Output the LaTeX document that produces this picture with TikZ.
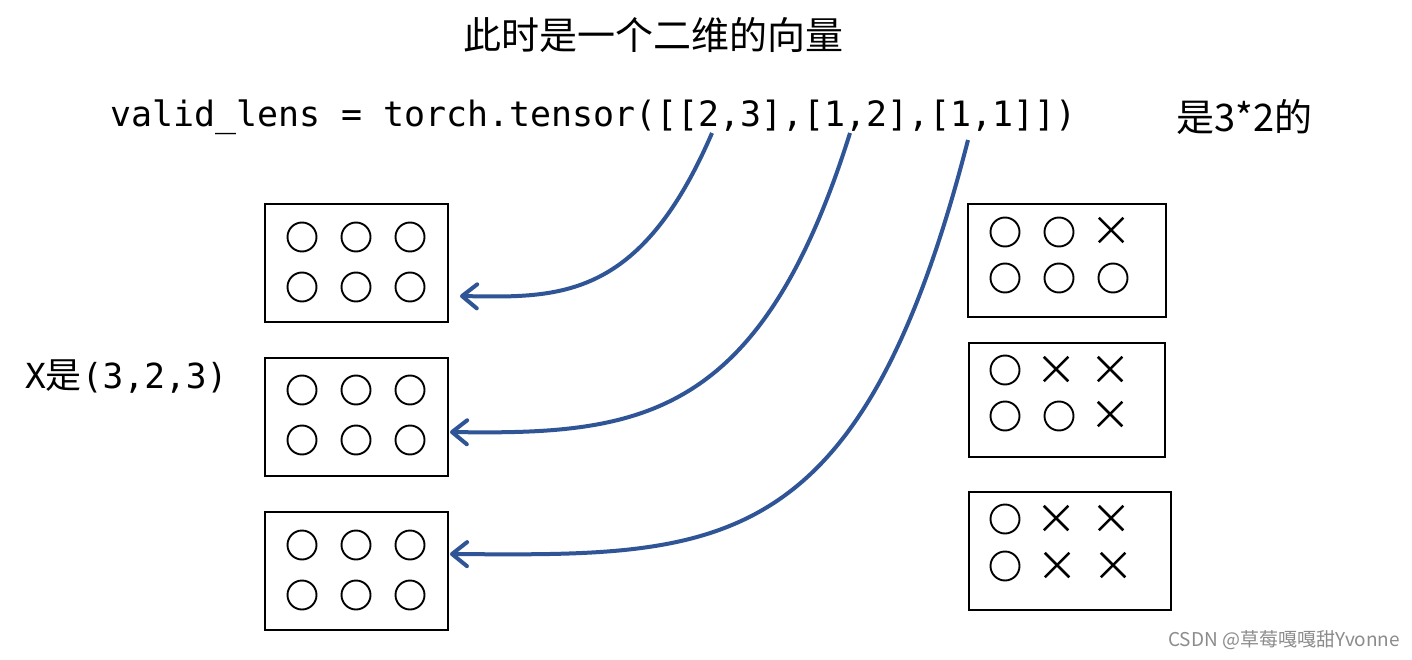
\documentclass[tikz,border=0pt]{standalone}
\usepackage{fontspec}
\setmonofont{DejaVu Sans Mono}
\newfontfamily\cjk{Noto Sans CJK SC}
\usetikzlibrary{arrows.meta,shapes.misc}
\definecolor{arrblue}{RGB}{47,85,151}
\begin{document}
\begin{tikzpicture}[x=1pt,y=-1pt,
  box/.style={draw,line width=2pt,inner sep=0pt},
  dot/.style={draw,line width=1.9pt,circle,minimum size=29pt,inner sep=0pt},
  crs/.style={draw,line width=2.5pt,cross out,minimum size=22pt,inner sep=0pt},
  conn/.style={draw=arrblue,line width=4pt,-{Straight Barb[length=15pt,width=24pt,round]}},
  lbl/.style={inner sep=0pt,anchor=west}
]
\useasboundingbox (0,0) rectangle (1412,660);
\fill[white] (0,0) rectangle (1412,660);

% texts
\node[inner sep=0pt] (title) at (653,35) {\cjk\fontsize{38}{44}\selectfont 此时是一个二维的向量};
\node[lbl] (code) at (110,117) {\ttfamily\fontsize{34.9}{40}\selectfont valid\_lens = torch.tensor([[2,3],[1,2],[1,1]])};
\node[lbl] (shape) at (1176,117) {\cjk\fontsize{38}{42}\selectfont 是3*2的};
\node[lbl] (xlbl) at (25,377) {\ttfamily\fontsize{34.5}{40}\selectfont X{\cjk\fontsize{36}{40}\selectfont 是}(3,2,3)};
\node[lbl,text=black!45] (wm) at (1168,640) {\cjk\fontsize{19}{22}\selectfont CSDN @草莓嘎嘎甜Yvonne};

% left boxes
\node[box,minimum width=183pt,minimum height=118pt] (L1) at (356.5,263) {};
\node[box,minimum width=183pt,minimum height=118pt] (L2) at (356.5,417) {};
\node[box,minimum width=183pt,minimum height=118pt] (L3) at (356.5,571) {};
\foreach \b/\ya/\yb in {1/237/287, 2/390/440, 3/545/595} {
  \foreach \c/\x in {a/302, b/356, c/410} {
    \node[dot] (L\b r1\c) at (\x,\ya) {};
    \node[dot] (L\b r2\c) at (\x,\yb) {};
  }
}

% right boxes
\node[box,minimum width=198pt,minimum height=113pt] (R1) at (1067,260.5) {};
\node[box,minimum width=196pt,minimum height=114pt] (R2) at (1067,400) {};
\node[box,minimum width=202pt,minimum height=118pt] (R3) at (1070,551) {};
% R1
\node[dot] (R1a) at (1005,232) {};
\node[dot] (R1b) at (1059,232) {};
\node[crs] (R1c) at (1111,230) {};
\node[dot] (R1d) at (1005,278) {};
\node[dot] (R1e) at (1059,278) {};
\node[dot] (R1f) at (1113,278) {};
% R2
\node[dot] (R2a) at (1005,370) {};
\node[crs] (R2b) at (1056,369) {};
\node[crs] (R2c) at (1110,369) {};
\node[dot] (R2d) at (1005,416) {};
\node[dot] (R2e) at (1059,416) {};
\node[crs] (R2f) at (1110,414) {};
% R3
\node[dot] (R3a) at (1005,519) {};
\node[crs] (R3b) at (1056,518) {};
\node[crs] (R3c) at (1111,518) {};
\node[dot] (R3d) at (1005,566) {};
\node[crs] (R3e) at (1057,565) {};
\node[crs] (R3f) at (1113,565) {};

% arrow anchors
\coordinate (s1) at (712,133);
\coordinate (s2) at (850,133);
\coordinate (s3) at (968,140);
\coordinate (e1) at (460,296);
\coordinate (e2) at (450,432);
\coordinate (e3) at (450,554);

\draw[conn] (s1) .. controls (640,300) and (560,298) .. (e1);
\draw[conn] (s2) .. controls (760,420) and (640,435) .. (e2);
\draw[conn] (s3) .. controls (860,560) and (720,556) .. (e3);
\end{tikzpicture}
\end{document}
